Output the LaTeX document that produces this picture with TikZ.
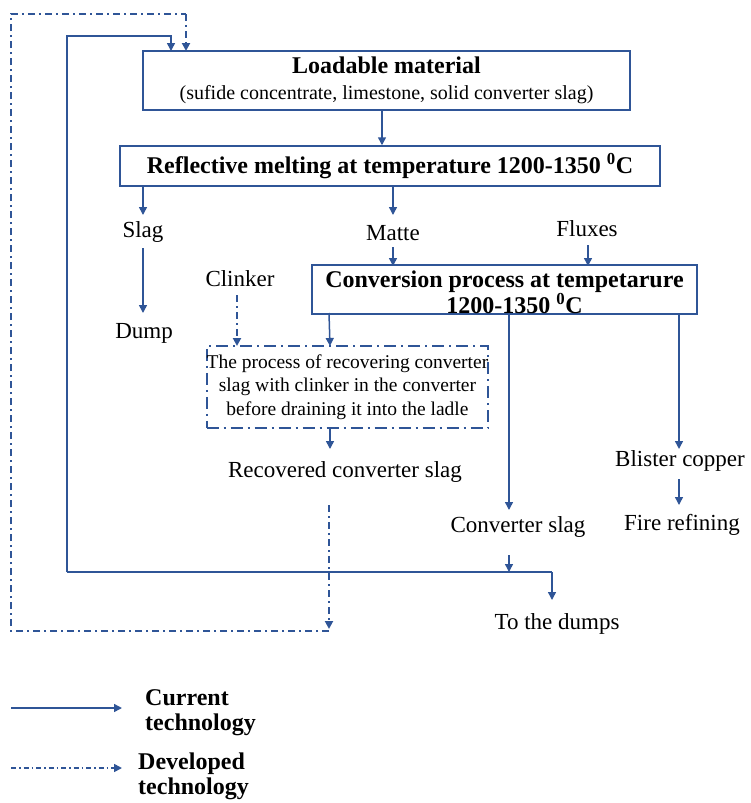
\documentclass[tikz,border=0pt]{standalone}
\usepackage{fontspec}
\setmainfont{Liberation Serif}
\usetikzlibrary{arrows.meta}
\definecolor{lineblue}{RGB}{47,85,151}
\tikzset{
  regtext/.style={font=\fontsize{23}{27}\selectfont, inner sep=0pt, text=black},
  boldtext/.style={font=\fontsize{24}{25}\selectfont\bfseries, inner sep=0pt, text=black},
  solidbox/.style={draw=lineblue, line width=1.5pt, inner sep=0pt, text=black},
  dotbox/.style={draw=lineblue, line width=1.8pt, inner sep=0pt, text=black,
     dash pattern=on 12pt off 5pt on 2pt off 5pt},
  tip/.style={-{Triangle[length=8pt,width=8pt]}},
  flow/.style={draw=lineblue, line width=1.5pt, tip},
  plain/.style={draw=lineblue, line width=1.5pt},
  devflow/.style={draw=lineblue, line width=2.4pt, tip,
     dash pattern=on 7pt off 4pt on 2pt off 4pt},
  devplain/.style={draw=lineblue, line width=2.4pt,
     dash pattern=on 7pt off 4pt on 2pt off 4pt},
  legdash/.style={draw=lineblue, line width=1.6pt, tip,
     dash pattern=on 5pt off 3pt on 1.5pt off 3pt},
}
\begin{document}
\begin{tikzpicture}[x=1pt,y=-1pt]
\useasboundingbox (0,0) rectangle (750,803);

% boxes
\node[solidbox, minimum width=487pt, minimum height=59pt, align=center,
      font=\fontsize{20}{26}\selectfont] (load) at (386.5,80.5)
  {{\fontsize{24}{26}\selectfont\bfseries Loadable material}\\
   (sufide concentrate, limestone, solid converter slag)};
\node[solidbox, minimum width=540pt, minimum height=40pt,
      font=\fontsize{24}{26}\selectfont\bfseries] (melt) at (390,166)
  {Reflective melting at temperature 1200-1350 \textsuperscript{0}C};
\node[solidbox, minimum width=385pt, minimum height=47pt, align=center,
      font=\fontsize{24}{20}\selectfont\bfseries] (conv) at (504.5,289.5)
  {\rule{0pt}{22pt}Conversion process at tempetarure\\
   \hspace*{20pt}1200-1350 \textsuperscript{0}C};
\node[dotbox, minimum width=281pt, minimum height=82pt, align=center,
      font=\fontsize{19.5}{23.5}\selectfont] (recproc) at (347.5,387)
  {The process of recovering converter\\
   slag with clinker in the converter\\ before draining it into the ladle};

% labels
\node[regtext] (slag) at (143,232) {Slag};
\node[regtext] (dump) at (144,333) {Dump};
\node[regtext] (matte) at (393,233) {Matte};
\node[regtext] (fluxes) at (587,229) {Fluxes};
\node[regtext] (clinker) at (240,279) {Clinker};
\node[regtext] (recslag) at (345,472) {Recovered converter slag};
\node[regtext] (convslag) at (518,527) {Converter slag};
\node[regtext] (blister) at (680,461) {Blister copper};
\node[regtext] (fire) at (682,525) {Fire refining};
\node[regtext] (dumps) at (557,624) {To the dumps};

% coordinates
\coordinate (meltL) at (143,186);
\coordinate (meltM) at (393,186);
\coordinate (convA) at (329,313);
\coordinate (convB) at (509,313);
\coordinate (convC) at (679,313);
\coordinate (recB) at (330,428);
\coordinate (jl) at (67,572);
\coordinate (jr) at (552,572);
\coordinate (js) at (509,572);
\coordinate (tl) at (67,36);
\coordinate (tr) at (171,36);
\coordinate (in1) at (171,51);
\coordinate (dl) at (11,631);
\coordinate (dr) at (329,631);
\coordinate (dtl) at (11,14);
\coordinate (dtr) at (186,14);
\coordinate (in2) at (186,51);

% current flows
\draw[flow] ([xshift=-4.5pt]load.south) -- ([xshift=-4.5pt]load.south |- melt.north);
\draw[flow] (meltL) -- (143,215);
\draw[flow] (143,248) -- (143,313);
\draw[flow] (meltM) -- (393,215);
\draw[flow] (393,247) -- (393,266);
\draw[flow] (588,245) -- (588,266);
\draw[flow] (convA) -- (330,346);
\draw[flow] (convB) -- (509,510);
\draw[flow] (convC) -- (679,449);
\draw[flow] (679,479) -- (679,505);
\draw[flow] (509,555) -- (js);
\draw[plain] (jl) -- (jr);
\draw[flow] (jr) -- (552,600);
\draw[flow] (jl) -- (tl) -- (tr) -- (in1);

% developed flows
\draw[devflow] (237,295) -- (237,346);
\draw[flow] (recB) -- (330,449);
\draw[devflow] (329,505) -- (329,629);
\draw[devplain] (dr) -- (dl) -- (dtl) -- (dtr);
\draw[devflow] (dtr) -- (in2);

% legend
\coordinate (l1a) at (11,708);
\coordinate (l1b) at (122,708);
\coordinate (l2a) at (11,768);
\coordinate (l2b) at (122,768);
\draw[flow] (l1a) -- (l1b);
\draw[legdash] (l2a) -- (l2b);
\node[boldtext, anchor=north west, align=left] (legcur) at (145,689)
  {Current\\technology};
\node[boldtext, anchor=north west, align=left] (legdev) at (138,753)
  {Developed\\technology};
\end{tikzpicture}
\end{document}
